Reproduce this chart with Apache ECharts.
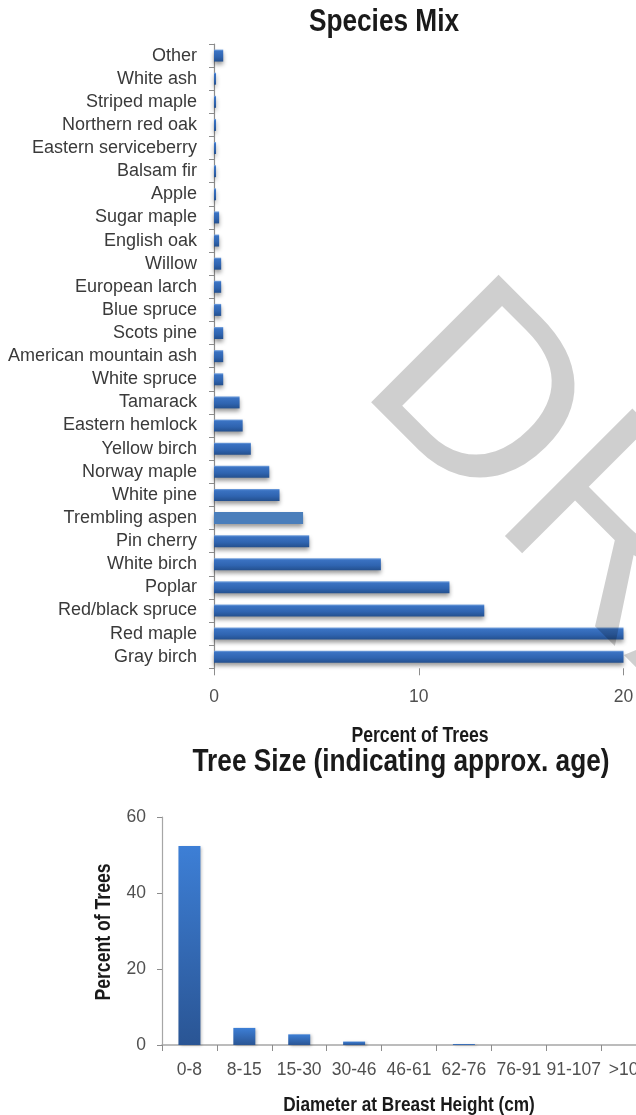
<!DOCTYPE html>
<html>
<head>
<meta charset="utf-8">
<style>
  html, body { margin: 0; padding: 0; background: #ffffff; }
  #chart { width: 636px; height: 1115px; }
</style>
<script src="https://cdn.jsdelivr.net/npm/echarts@6/dist/echarts.min.js"></script>
</head>
<body>
<div id="chart"></div>
<script>
// Species mix (percent of trees), listed top to bottom
const species = [
  'Other', 'White ash', 'Striped maple', 'Northern red oak', 'Eastern serviceberry',
  'Balsam fir', 'Apple', 'Sugar maple', 'English oak', 'Willow', 'European larch',
  'Blue spruce', 'Scots pine', 'American mountain ash', 'White spruce', 'Tamarack',
  'Eastern hemlock', 'Yellow birch', 'Norway maple', 'White pine', 'Trembling aspen',
  'Pin cherry', 'White birch', 'Poplar', 'Red/black spruce', 'Red maple', 'Gray birch'
];
const speciesPct = [
  0.45, 0.1, 0.1, 0.1, 0.1,
  0.1, 0.1, 0.25, 0.25, 0.35, 0.35,
  0.35, 0.45, 0.45, 0.45, 1.25,
  1.4, 1.8, 2.7, 3.2, 4.35,
  4.65, 8.15, 11.5, 13.2, 20, 20
];
const speciesTicks = [0, 10, 20];

// Tree size classes: diameter at breast height (cm)
const sizeClasses = ['0-8', '8-15', '15-30', '30-46', '46-61', '62-76', '76-91', '91-107', '>107'];
const sizePct = [52.4, 4.5, 2.8, 0.9, 0, 0.25, 0, 0, 0];

const FONT = '"Liberation Sans", Arial, sans-serif';
const axisGray = '#8c8c8c';
// headings are drawn in a horizontally condensed bold face
const CONDENSE = 0.82;

const hBarGradient = new echarts.graphic.LinearGradient(0, 0, 0, 1, [
  { offset: 0, color: '#7aa6e0' },
  { offset: 0.15, color: '#3a72c2' },
  { offset: 0.6, color: '#2f64b0' },
  { offset: 1, color: '#24508e' }
]);
const vBarGradient = new echarts.graphic.LinearGradient(0, 0, 0, 1, [
  { offset: 0, color: '#3d7fd6' },
  { offset: 1, color: '#2a5594' }
]);

const speciesData = species.map((name, i) => {
  const item = { value: speciesPct[i] };
  if (name === 'Trembling aspen') {
    item.itemStyle = { color: '#4a7ebb' };
  }
  return item;
});

function heading(text, x, y, size, rot) {
  return {
    type: 'text',
    x: x, y: y,
    rotation: rot || 0,
    scaleX: CONDENSE,
    scaleY: 1,
    z: 50,
    style: {
      text: text,
      fill: '#1a1a1a',
      font: 'bold ' + size + 'px ' + FONT,
      align: 'center', verticalAlign: 'middle',
      textAlign: 'center', textVerticalAlign: 'middle'
    }
  };
}

const chart = echarts.init(document.getElementById('chart'), null, { renderer: 'canvas' });

chart.setOption({
  backgroundColor: '#ffffff',
  animation: false,
  grid: [
    { left: 214, right: 12.5, top: 44, bottom: 446.7, containLabel: false, outerBoundsMode: 'none' },
    { left: 162, right: -20, top: 817, bottom: 70, containLabel: false, outerBoundsMode: 'none' }
  ],
  xAxis: [
    {
      gridIndex: 0,
      type: 'value',
      min: speciesTicks[0],
      max: speciesTicks[speciesTicks.length - 1],
      interval: 10,
      splitLine: { show: false },
      axisLine: { show: false },
      axisTick: { show: true, length: 7, lineStyle: { color: axisGray } },
      axisLabel: {
        margin: 20, color: '#505050', fontSize: 17.5, fontFamily: FONT,
        customValues: speciesTicks
      }
    },
    {
      gridIndex: 1,
      type: 'category',
      data: sizeClasses,
      axisLine: { show: true, lineStyle: { color: '#a6a6a6', width: 1.5 } },
      axisTick: { show: true, length: 6, lineStyle: { color: axisGray } },
      axisLabel: { interval: 0, margin: 16, color: '#505050', fontSize: 17.5, fontFamily: FONT }
    }
  ],
  yAxis: [
    {
      gridIndex: 0,
      type: 'category',
      inverse: true,
      data: species,
      axisLine: { show: true, lineStyle: { color: axisGray, width: 1.2 } },
      axisTick: { show: true, length: 5, lineStyle: { color: axisGray } },
      axisLabel: { interval: 0, margin: 17, color: '#3a3a3a', fontSize: 18, fontFamily: FONT }
    },
    {
      gridIndex: 1,
      type: 'value',
      min: 0,
      max: 60,
      interval: 20,
      splitLine: { show: false },
      axisLine: { show: true, lineStyle: { color: '#a6a6a6', width: 1.2 } },
      axisTick: { show: true, length: 5, lineStyle: { color: axisGray } },
      axisLabel: { margin: 16, color: '#505050', fontSize: 17.5, fontFamily: FONT }
    }
  ],
  series: [
    {
      name: 'Species Mix',
      type: 'bar',
      xAxisIndex: 0,
      yAxisIndex: 0,
      barWidth: 12,
      data: speciesData,
      itemStyle: {
        color: hBarGradient,
        shadowColor: 'rgba(0,0,0,0.4)',
        shadowBlur: 4,
        shadowOffsetY: 3
      }
    },
    {
      name: 'Tree Size',
      type: 'bar',
      xAxisIndex: 1,
      yAxisIndex: 1,
      barWidth: 22,
      data: sizePct,
      itemStyle: {
        color: vBarGradient,
        shadowColor: 'rgba(0,0,0,0.25)',
        shadowBlur: 3,
        shadowOffsetX: 2,
        shadowOffsetY: 1
      }
    }
  ],
  graphic: [
    heading('Species Mix', 384, 22.5, 32),
    heading('Percent of Trees', 420, 736, 21.5),
    heading('Tree Size (indicating approx. age)', 401, 762, 32),
    heading('Percent of Trees', 104, 932, 21.5, Math.PI / 2),
    heading('Diameter at Breast Height (cm)', 409, 1105, 21),
    {
      type: 'text',
      x: 407, y: 336,
      rotation: -Math.PI / 4,
      z: 100,
      silent: true,
      style: {
        text: 'DRAFT',
        fill: 'rgba(0,0,0,0.19)',
        font: '262px ' + FONT,
        align: 'left', verticalAlign: 'middle',
        textAlign: 'left', textVerticalAlign: 'middle'
      }
    }
  ]
});
</script>
</body>
</html>
